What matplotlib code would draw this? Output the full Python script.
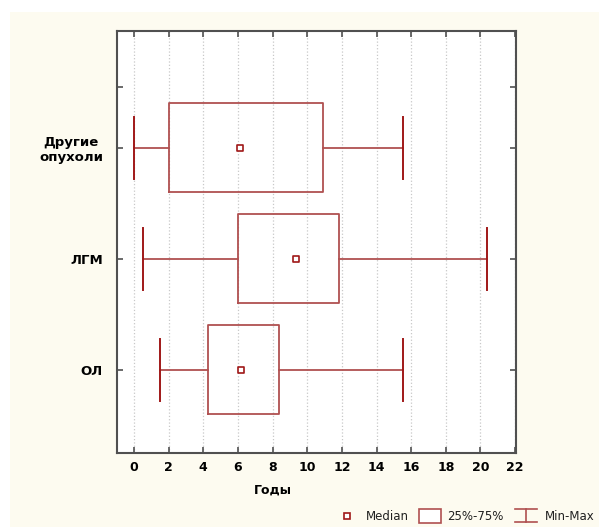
import matplotlib.pyplot as plt
from matplotlib.patches import Rectangle
from matplotlib.lines import Line2D

# data (years)
groups = ["ОЛ", "ЛГМ", "Другие\nопухоли"]
mins = [1.5, 0.5, 0.0]
q1 = [4.3, 6.0, 2.0]
medians = [6.2, 9.35, 6.1]
q3 = [8.35, 11.85, 10.9]
maxs = [15.5, 20.4, 15.5]
xticks = list(range(0, 23, 2))

box_col = "#b05050"
cap_col = "#a01818"
bg = "#fdfbf0"

plt.rcParams["font.family"] = ["DejaVu Sans"]

fig = plt.figure(figsize=(5.99, 5.27), dpi=100, facecolor="white")
fig.patches.append(Rectangle((10 / 599, 0), 1, 1 - 12 / 527, transform=fig.transFigure,
                             facecolor=bg, edgecolor="none", zorder=-10))

ax = fig.add_axes([117 / 599, 1 - 453 / 527, (516 - 117) / 599, (453 - 31) / 527])
ax.set_facecolor("white")

pos = [1, 2, 3]
stats = []
for i in range(len(groups)):
    stats.append(dict(med=medians[i], q1=q1[i], q3=q3[i], whislo=mins[i], whishi=maxs[i], fliers=[]))

ax.bxp(stats, positions=pos, orientation="horizontal", widths=0.8, capwidths=0.56,
       showfliers=False,
       boxprops=dict(color=box_col, linewidth=1.3),
       whiskerprops=dict(color=box_col, linewidth=1.3),
       capprops=dict(color=cap_col, linewidth=1.4),
       medianprops=dict(linewidth=0))
ax.scatter(medians, pos, marker="s", s=16, facecolor="white", edgecolor=cap_col,
           linewidth=1.2, zorder=5)

ax.set_xlim(-0.98, 22.05)
ax.set_ylim(0.25, 4.05)
ax.set_xticks(xticks)
ax.set_xticklabels([str(t) for t in xticks], fontsize=9, fontweight="bold")
ax.set_yticks(pos + [3.55])
ax.set_yticklabels(groups + [""], fontsize=9.5, fontweight="bold")
for lab in ax.get_yticklabels():
    lab.set_multialignment("center")
ax.tick_params(direction="in", length=4, width=1.2, color="#505050",
               top=True, right=True)
ax.tick_params(axis="x", pad=6)
ax.tick_params(axis="y", pad=10)
ax.grid(axis="x", color="#c8c8c8", linestyle=":", linewidth=0.9)
ax.set_axisbelow(True)
for s in ax.spines.values():
    s.set_color("#505050")
    s.set_linewidth(1.5)

fig.text(273 / 599, 1 - 490 / 527, "Годы", ha="center", va="center",
         fontsize=9, fontweight="bold")

# legend drawn by hand, like Statistica
ly = 1 - 516 / 527
fig.add_artist(Line2D([347 / 599], [ly], marker="s", markersize=4, markerfacecolor="white",
                      markeredgecolor=cap_col, markeredgewidth=1.2, transform=fig.transFigure))
fig.text(366 / 599, ly, "Median", ha="left", va="center", fontsize=8.5, color="#202020")
fig.patches.append(Rectangle((419 / 599, ly - 7 / 527), 22 / 599, 14 / 527,
                             transform=fig.transFigure, facecolor="white",
                             edgecolor=box_col, linewidth=1.2))
fig.text(447 / 599, ly, "25%-75%", ha="left", va="center", fontsize=8.5, color="#202020")
wx0, wx1, wxm = 515 / 599, 537 / 599, 526 / 599
fig.add_artist(Line2D([wxm, wxm], [ly - 6 / 527, ly + 7 / 527], color=box_col,
                      linewidth=1.2, transform=fig.transFigure))
fig.add_artist(Line2D([wx0, wx1], [ly + 7 / 527, ly + 7 / 527], color=box_col,
                      linewidth=1.2, transform=fig.transFigure))
fig.add_artist(Line2D([wx0, wx1], [ly - 6 / 527, ly - 6 / 527], color=box_col,
                      linewidth=1.2, transform=fig.transFigure))
fig.text(545 / 599, ly, "Min-Max", ha="left", va="center", fontsize=8.5, color="#202020")

fig.savefig("out.png", dpi=100, facecolor=fig.get_facecolor())
